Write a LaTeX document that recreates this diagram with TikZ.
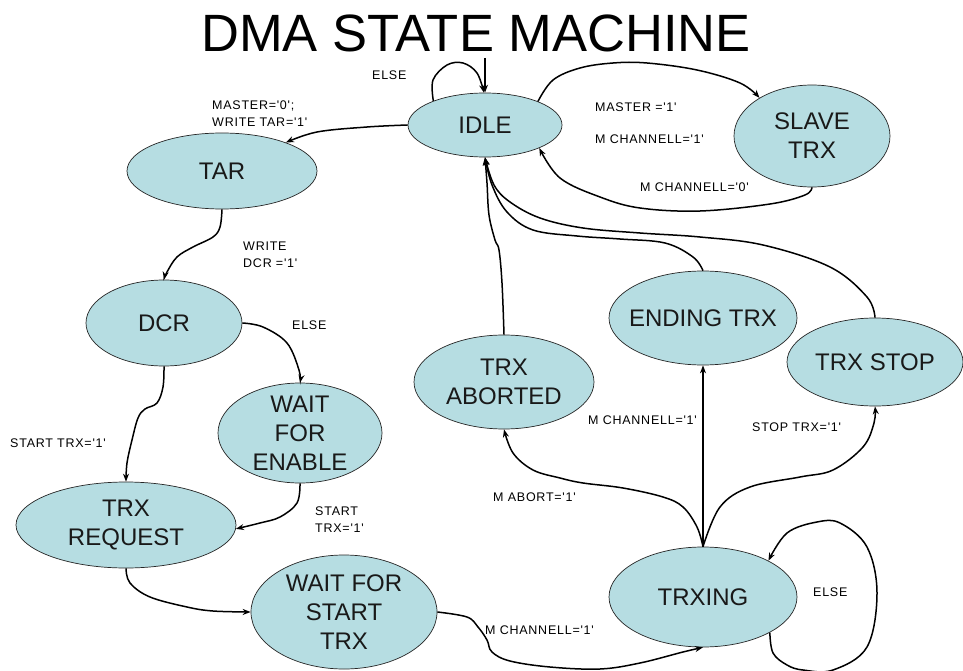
\documentclass[tikz,border=0pt]{standalone}
\usepackage{fontspec}
\setmainfont{Liberation Sans}
\newfontfamily\lblfont[LetterSpace=6,Ligatures=TeXOff]{Liberation Sans}
\usetikzlibrary{shapes.geometric,arrows.meta}
\definecolor{statefill}{RGB}{182,221,226}
\begin{document}
\begin{tikzpicture}[x=1pt,y=-1pt,
  state/.style={ellipse,draw=black!85,line width=0.7pt,fill=statefill,inner sep=0pt},
  stxt/.style={font=\fontsize{24}{29}\selectfont,align=center,text=black!90,inner sep=0pt},
  trans/.style={line width=1.5pt,-{Stealth[length=8pt,width=6pt]}},
  lbl/.style={font=\lblfont\fontsize{12.5}{17}\selectfont,align=left,anchor=west,inner sep=0pt},
]
\useasboundingbox (0,0) rectangle (963,671);
\fill[white] (0,0) rectangle (963,671);

% title
\node[font=\fontsize{52.5}{60}\selectfont,anchor=base,inner sep=0pt] (title) at (476,52) {DMA STATE MACHINE};

% states
\node[state,minimum width=154pt,minimum height=64pt,label={[stxt]center:IDLE}] (idle) at (485,125) {};
\node[state,minimum width=156pt,minimum height=102pt,label={[stxt]center:SLAVE\\TRX}] (slave) at (812,136) {};
\node[state,minimum width=190pt,minimum height=76pt,label={[stxt]center:TAR}] (tar) at (222,171) {};
\node[state,minimum width=156pt,minimum height=86pt,label={[stxt]center:DCR}] (dcr) at (164,323) {};
\node[state,minimum width=164pt,minimum height=100pt,label={[stxt]center:WAIT\\FOR\\ENABLE}] (wfe) at (300,433) {};
\node[state,minimum width=220pt,minimum height=86pt,label={[stxt]center:TRX\\REQUEST}] (req) at (126,525) {};
\node[state,minimum width=186pt,minimum height=114pt,label={[stxt]center:WAIT FOR\\START\\TRX}] (wfs) at (344,612) {};
\node[state,minimum width=188pt,minimum height=100pt,label={[stxt]center:TRXING}] (trxing) at (703,597) {};
\node[state,minimum width=180pt,minimum height=94pt,label={[stxt]center:TRX\\ABORTED}] (abort) at (504,382) {};
\node[state,minimum width=188pt,minimum height=94pt,label={[stxt]center:ENDING TRX}] (ending) at (703,318) {};
\node[state,minimum width=176pt,minimum height=88pt,label={[stxt]center:TRX STOP}] (stop) at (875,362) {};

% entry into IDLE and its ELSE loop
\coordinate (entry) at (485,58);
\draw[trans] (entry) -- (idle.north);
\draw[trans] plot[smooth,tension=0.6] coordinates {(idle.155) (433,80) (447,65) (463,63) (477,73) (idle.92)};

% IDLE <-> SLAVE TRX, IDLE -> TAR
\draw[trans] plot[smooth,tension=0.6] coordinates {(idle.west) (367,127) (317,132) (tar.24)};
\draw[trans] plot[smooth,tension=0.6] coordinates {(idle.24) (553,80) (580,68) (613,63) (647,63) (697,70) (740,83) (slave.144)};
\draw[trans] plot[smooth,tension=0.6] coordinates {(slave.south) (805,195) (770,204) (700,211) (640,208) (600,197) (560,178) (idle.-23)};

% left chain
\draw[trans] plot[smooth,tension=0.6] coordinates {(tar.south) (220,227) (213,237) (193,247) (177,257) (167,272) (dcr.north)};
\draw[trans] plot[smooth,tension=0.6] coordinates {(dcr.east) (263,327) (287,343) (299,370) (wfe.north)};
\draw[trans] plot[smooth,tension=0.6] coordinates {(dcr.south) (163,387) (157,403) (145,409) (138,418) (132,440) (127,463) (req.north)};
\draw[trans] plot[smooth,tension=0.6] coordinates {(wfe.south) (297,503) (280,517) (260,523) (req.-2)};
\draw[trans] plot[smooth,tension=0.6] coordinates {(req.south) (130,583) (150,597) (187,607) (213,611) (wfs.west)};
\draw[trans] plot[smooth,tension=0.6] coordinates {(wfs.east) (467,617) (478,627) (487,640) (492,652) (510,661) (550,667) (600,669) (640,663) (683,652) (trxing.south)};

% out of TRXING
\draw[trans] plot[smooth,tension=0.6] coordinates {(trxing.north) (697,527) (683,507) (663,497) (623,488) (583,483) (560,478) (533,470) (513,453) (abort.south)};
\draw[trans] (trxing.north) -- (ending.south);
\draw[trans] plot[smooth,tension=0.6] coordinates {(trxing.north) (720,507) (750,487) (800,477) (833,470) (863,447) (874,423) (stop.south)};
\draw[trans] plot[smooth,tension=0.6] coordinates {(trxing.-28) (773,653) (787,665) (803,670) (833,670) (867,647) (877,593) (867,547) (840,523) (817,522) (787,533) (trxing.29)};

% back to IDLE
\draw[trans] plot[smooth,tension=0.6] coordinates {(abort.north) (502,283) (499,250) (495,240) (489,215) (487,183) (idle.south)};
\draw[trans] plot[smooth,tension=0.6] coordinates {(ending.north) (693,257) (665,243) (620,239) (577,236) (533,230) (507,212) (492,185) (idle.south)};
\draw[trans] plot[smooth,tension=0.6] coordinates {(stop.north) (867,297) (830,267) (763,245) (700,237) (640,233) (583,228) (540,218) (510,202) (494,185) (idle.south)};

% transition labels
\node[lbl] (l-else-idle) at (372,75) {ELSE};
\node[lbl] (l-master0) at (212,113.5) {MASTER='0';\\WRITE TAR='1'};
\node[lbl] (l-master1) at (595,107) {MASTER ='1'};
\node[lbl] (l-mch1-slave) at (595,139) {M CHANNELL='1'};
\node[lbl] (l-mch0) at (640,187) {M CHANNELL='0'};
\node[lbl] (l-wdcr) at (243,255) {WRITE\\DCR ='1'};
\node[lbl] (l-else-dcr) at (292,325) {ELSE};
\node[lbl] (l-start-dcr) at (10,443) {START TRX='1'};
\node[lbl] (l-start-wfe) at (315,520) {START\\TRX='1'};
\node[lbl] (l-mch1-wfs) at (485,630) {M CHANNELL='1'};
\node[lbl] (l-abort) at (493,497) {M ABORT='1'};
\node[lbl] (l-mch1-end) at (588,420) {M CHANNELL='1'};
\node[lbl] (l-stop) at (752,427) {STOP TRX='1'};
\node[lbl] (l-else-trx) at (813,592) {ELSE};
\end{tikzpicture}
\end{document}
